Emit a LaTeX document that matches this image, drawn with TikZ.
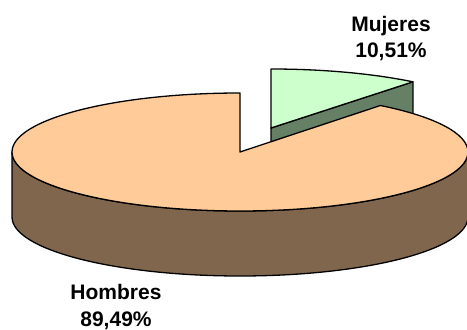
\documentclass[tikz,border=0pt]{standalone}
\usepackage{fontspec}
\setmainfont{Liberation Sans}
\definecolor{peach}{HTML}{FFCC99}
\definecolor{peachside}{HTML}{80664D}
\definecolor{mint}{HTML}{CCFFCC}
\definecolor{mintside}{HTML}{668066}
\tikzset{
  slice/.style={line width=1.3pt, line join=round},
  pct/.style={anchor=base, inner sep=0pt}
}
\begin{document}
\begin{tikzpicture}[x=1pt,y=1pt,font=\fontsize{21}{26}\selectfont\bfseries]
\useasboundingbox (0,0) rectangle (467,330);
\coordinate (centro) at (240,178);
\coordinate (cuna) at (271,202);

% Mujeres (exploded slice)
\draw[slice, fill=mintside] (cuna) -- ++(51.5:228pt and 59pt) -- ++(0,-65)
    -- ([yshift=-65pt]cuna) -- cycle;
\draw[slice, fill=mint] (cuna) -- ++(51.5:228pt and 59pt)
    arc[start angle=51.5, end angle=90, x radius=228pt, y radius=59pt] -- cycle;

% Hombres
\draw[slice, fill=peachside] ([xshift=-228pt]centro)
    arc[start angle=180, end angle=360, x radius=228pt, y radius=59pt] -- ++(0,-65)
    arc[start angle=360, end angle=180, x radius=228pt, y radius=59pt] -- cycle;
\draw[slice, fill=peach] (centro) -- ++(90:228pt and 59pt)
    arc[start angle=90, end angle=412, x radius=228pt, y radius=59pt] -- cycle;

% labels
\node[pct] (mujeres) at (391,298) {Mujeres};
\node[pct] (mujerespct) at (391,272) {10,51\%};
\node[pct] (hombres) at (116,30) {Hombres};
\node[pct] (hombrespct) at (116,3) {89,49\%};
\end{tikzpicture}
\end{document}
